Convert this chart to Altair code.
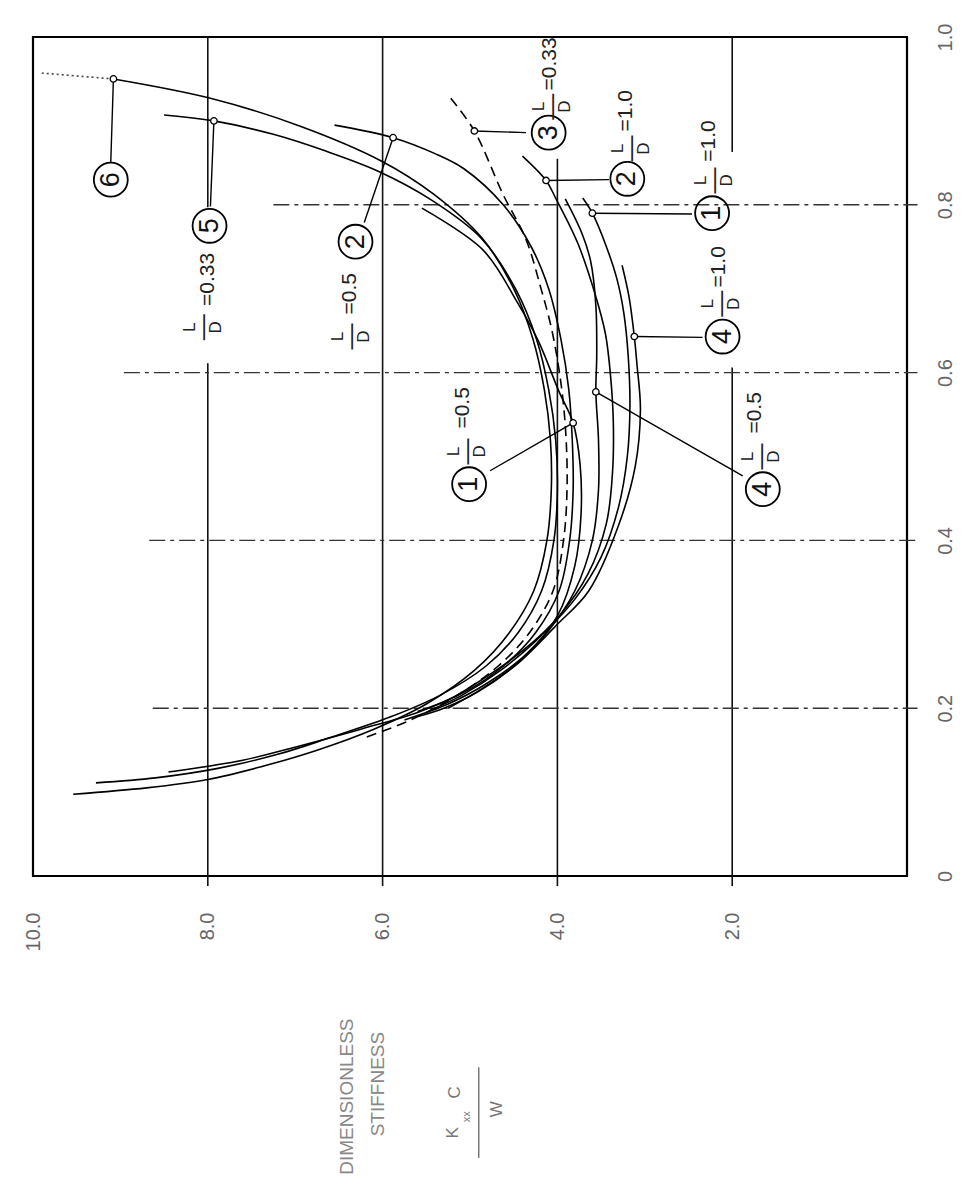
import altair as alt
import pandas as pd

# ---------------- values ----------------
# e = eccentricity ratio (0..1), s = dimensionless stiffness K_xx C / W
E_6 = [0.950, 0.927, 0.894, 0.852, 0.813, 0.76, 0.70, 0.64, 0.58, 0.52, 0.46, 0.40, 0.34, 0.29, 0.245, 0.205, 0.175, 0.15, 0.13, 0.115, 0.105, 0.0975]
S_6 = [9.08, 7.97, 6.95, 6.01, 5.42, 4.86, 4.50, 4.28, 4.15, 4.08, 4.07, 4.12, 4.27, 4.55, 4.95, 5.50, 6.10, 6.75, 7.40, 8.00, 8.70, 9.54]
E_6_HEAD = [0.957, 0.950]
S_6_HEAD = [9.90, 9.08]

E_5 = [0.907, 0.900, 0.884, 0.864, 0.84, 0.805, 0.76, 0.70, 0.64, 0.58, 0.52, 0.46, 0.40, 0.34, 0.29, 0.25, 0.215, 0.19, 0.165, 0.145, 0.128, 0.117, 0.111]
S_5 = [8.50, 7.93, 7.25, 6.65, 6.05, 5.43, 4.87, 4.48, 4.24, 4.10, 4.02, 4.00, 4.04, 4.18, 4.45, 4.82, 5.35, 5.90, 6.60, 7.20, 7.90, 8.60, 9.28]

E_2A = [0.895, 0.880, 0.861, 0.843, 0.80, 0.75, 0.70, 0.64, 0.58, 0.52, 0.46, 0.40, 0.34, 0.29, 0.25, 0.22, 0.195, 0.175, 0.155, 0.138, 0.124]
S_2A = [6.55, 5.88, 5.40, 5.07, 4.62, 4.30, 4.10, 3.96, 3.87, 3.83, 3.82, 3.86, 3.98, 4.25, 4.62, 5.05, 5.60, 6.25, 6.95, 7.60, 8.45]

E_3 = [0.927, 0.888, 0.812, 0.759, 0.701, 0.649, 0.58, 0.52, 0.46, 0.40, 0.34, 0.29, 0.25, 0.215, 0.185, 0.165]
S_3 = [5.22, 4.95, 4.62, 4.36, 4.19, 4.06, 3.95, 3.90, 3.89, 3.93, 4.05, 4.32, 4.68, 5.15, 5.70, 6.20]

E_2B = [0.858, 0.829, 0.808, 0.755, 0.694, 0.646, 0.594, 0.54, 0.48, 0.42, 0.36, 0.31, 0.27, 0.235, 0.21, 0.196]
S_2B = [4.40, 4.13, 4.02, 3.77, 3.57, 3.45, 3.39, 3.36, 3.37, 3.44, 3.65, 3.98, 4.38, 4.85, 5.25, 5.60]

E_1B = [0.808, 0.790, 0.753, 0.712, 0.671, 0.62, 0.56, 0.50, 0.44, 0.38, 0.33, 0.28, 0.245, 0.215, 0.198]
S_1B = [3.71, 3.60, 3.45, 3.32, 3.24, 3.19, 3.17, 3.20, 3.30, 3.50, 3.80, 4.25, 4.65, 5.10, 5.45]

E_4B = [0.728, 0.69, 0.643, 0.61, 0.556, 0.488, 0.418, 0.34, 0.299, 0.25, 0.217, 0.200]
S_4B = [3.26, 3.18, 3.12, 3.09, 3.05, 3.11, 3.30, 3.64, 4.01, 4.49, 4.96, 5.25]

E_4A = [0.807, 0.766, 0.733, 0.68, 0.62, 0.577, 0.52, 0.46, 0.40, 0.34, 0.29, 0.25, 0.22, 0.20, 0.19]
S_4A = [3.91, 3.72, 3.62, 3.56, 3.55, 3.56, 3.53, 3.53, 3.60, 3.80, 4.12, 4.50, 4.90, 5.30, 5.60]

E_1A = [0.796, 0.746, 0.684, 0.638, 0.577, 0.540, 0.49, 0.43, 0.37, 0.31, 0.265, 0.23, 0.205, 0.186]
S_1A = [5.55, 4.85, 4.46, 4.22, 3.98, 3.82, 3.74, 3.73, 3.80, 4.00, 4.35, 4.80, 5.25, 5.75]

# label markers on the curves, leader ends and circled curve numbers
LBL_NUM = ["6", "5", "2", "3", "2", "1", "4", "4", "1"]
MARK_E = [0.950, 0.900, 0.880, 0.888, 0.829, 0.790, 0.643, 0.577, 0.540]
MARK_S = [9.08, 7.93, 5.88, 4.95, 4.13, 3.60, 3.12, 3.56, 3.82]
LEAD_E = [0.851, 0.798, 0.779, 0.886, 0.830, 0.789, 0.642, 0.477, 0.483]
LEAD_S = [9.11, 7.97, 6.21, 4.36, 3.41, 2.46, 2.34, 1.88, 4.77]
CIRC_E = [0.830, 0.775, 0.756, 0.886, 0.831, 0.790, 0.643, 0.461, 0.467]
CIRC_S = [9.11, 7.98, 6.31, 4.10, 3.20, 2.23, 2.11, 1.65, 5.01]

# L/D fractions and their values
FRAC_E = [0.654, 0.643, 0.917, 0.867, 0.829, 0.682, 0.500, 0.506]
FRAC_S = [8.06, 6.36, 4.06, 3.16, 2.21, 2.13, 1.67, 5.03]
VAL_TXT = ["=0.33", "=0.5", "=0.33", "=1.0", "=1.0", "=1.0", "=0.5", "=0.5"]
VAL_E = [0.711, 0.694, 0.968, 0.912, 0.876, 0.726, 0.552, 0.558]
VAL_S = [8.00, 6.37, 4.08, 3.22, 2.26, 2.15, 1.74, 5.08]

# grid lines
S_GRID = [2, 2, 4, 6, 8, 8]
S_GRID_E1 = [-0.012, 0.863, -0.012, -0.012, -0.012, 0.797]
S_GRID_E2 = [0.606, 1.0, 0.855, 1.0, 0.611, 1.0]
E_GRID = [0.2, 0.4, 0.6, 0.8]
E_GRID_S1 = [8.63, 8.67, 8.96, 7.25]
E_GRID_S2 = [-0.12, -0.12, -0.12, -0.12]

S_TICKS = [2, 4, 6, 8, 10]
E_TICKS = [0, 0.2, 0.4, 0.6, 0.8, 1.0]

# axis title (placed under the plot)
TITLE_TXT = ["DIMENSIONLESS", "STIFFNESS"]
TITLE_S = [6.41, 6.05]
TITLE_E = [-0.263, -0.248]
FORM_TXT = ["K", "xx", "C", "W"]
FORM_S = [5.19, 5.04, 5.17, 4.69]
FORM_E = [-0.306, -0.287, -0.258, -0.278]
FORM_SIZE = [17, 11, 17, 17]
FORM_BAR_S = [4.90]
FORM_BAR_E1 = [-0.228]
FORM_BAR_E2 = [-0.336]

# ---------------- tables ----------------
def curve(name, es, ss):
    return pd.DataFrame({"curve": [name] * len(es), "idx": list(range(len(es))), "e": es, "s": ss})

solid = pd.concat([
    curve("6", E_6, S_6), curve("5", E_5, S_5), curve("2_05", E_2A, S_2A),
    curve("2_10", E_2B, S_2B), curve("1_10", E_1B, S_1B), curve("4_10", E_4B, S_4B),
    curve("4_05", E_4A, S_4A), curve("1_05", E_1A, S_1A),
], ignore_index=True)
dashed = curve("3", E_3, S_3)
head = curve("6h", E_6_HEAD, S_6_HEAD)

marks = pd.DataFrame({"e": MARK_E, "s": MARK_S, "e2": LEAD_E, "s2": LEAD_S})
circ = pd.DataFrame({"e": CIRC_E, "s": CIRC_S, "t": LBL_NUM})
frac = pd.DataFrame({"e": FRAC_E, "s": FRAC_S})
vals = pd.DataFrame({"e": VAL_E, "s": VAL_S, "t": VAL_TXT})
sgrid = pd.DataFrame({"s": S_GRID, "e": S_GRID_E1, "e2": S_GRID_E2})
egrid = pd.DataFrame({"e": E_GRID, "s": E_GRID_S1, "s2": E_GRID_S2})
titles = pd.DataFrame({"e": TITLE_E, "s": TITLE_S, "t": TITLE_TXT})
form = pd.DataFrame({"e": FORM_E, "s": FORM_S, "t": FORM_TXT, "fs": FORM_SIZE})
fbar = pd.DataFrame({"s": FORM_BAR_S, "e": FORM_BAR_E1, "e2": FORM_BAR_E2})
axis_dummy = pd.DataFrame({"s": [0, 10], "e": [0, 1]})

# ---------------- encodings ----------------
FONT = "Liberation Sans"
xs = alt.Scale(domain=[0, 10], reverse=True, nice=False, zero=False)
ys = alt.Scale(domain=[0, 1], nice=False, zero=False)
x_axis = alt.Axis(values=S_TICKS, labelExpr="format(datum.value, '.1f')", orient="bottom",
                  labelAngle=270, labelAlign="right", labelBaseline="middle", labelPadding=36,
                  ticks=False, tickSize=0, domain=False, grid=False, labelFlush=False,
                  labelOverlap=False, labelFontSize=20, labelColor="#666", labelFont=FONT, title=None)
y_axis = alt.Axis(values=E_TICKS, labelExpr="datum.value == 0 ? '0' : format(datum.value, '.1f')",
                  orient="right", labelAngle=270, labelAlign="center", labelBaseline="top",
                  labelPadding=28, ticks=False, tickSize=0, domain=False, grid=False,
                  labelFlush=False, labelOverlap=False, labelFontSize=20, labelColor="#666",
                  labelFont=FONT, title=None)
X = alt.X("s:Q", scale=xs, axis=x_axis)
Y = alt.Y("e:Q", scale=ys, axis=y_axis)

axes = alt.Chart(axis_dummy).mark_point(opacity=0).encode(x=X, y=Y)

sgrid_l = alt.Chart(sgrid).mark_rule(color="#111", strokeWidth=1.6).encode(x=X, y=Y, y2="e2:Q")
egrid_l = alt.Chart(egrid).mark_rule(color="#333", strokeWidth=1.4, strokeDash=[16, 5, 4, 5]).encode(
    x=X, x2="s2:Q", y=Y)

solid_l = alt.Chart(solid).mark_line(color="black", strokeWidth=1.6, interpolate="catmull-rom").encode(
    x=X, y=Y, detail="curve:N", order="idx:Q")
dash_l = alt.Chart(dashed).mark_line(color="black", strokeWidth=1.6, strokeDash=[10, 6],
                                     interpolate="catmull-rom").encode(x=X, y=Y, order="idx:Q")
head_l = alt.Chart(head).mark_line(color="#444", strokeWidth=1.6, strokeDash=[2, 3]).encode(
    x=X, y=Y, order="idx:Q")

lead_l = alt.Chart(marks).mark_rule(color="black", strokeWidth=1.4).encode(x=X, x2="s2:Q", y=Y, y2="e2:Q")
mark_l = alt.Chart(marks).mark_point(shape="circle", filled=True, color="white", stroke="black",
                                     strokeWidth=1.3, size=42, opacity=1).encode(x=X, y=Y)

circ_l = alt.Chart(circ).mark_point(shape="circle", filled=False, color="black", strokeWidth=1.8,
                                    size=1150, opacity=1).encode(x=X, y=Y)
num_l = alt.Chart(circ).mark_text(angle=270, font=FONT, fontSize=27, color="#111", align="center",
                                  baseline="middle").encode(x=X, y=Y, text="t:N")

frac_L = alt.Chart(frac).mark_text(angle=270, font=FONT, fontSize=17, color="#222", align="center",
                                   baseline="middle", dy=-13, text="L").encode(x=X, y=Y)
frac_D = alt.Chart(frac).mark_text(angle=270, font=FONT, fontSize=17, color="#222", align="center",
                                   baseline="middle", dy=13, text="D").encode(x=X, y=Y)
frac_bar = alt.Chart(frac).mark_text(angle=270, font=FONT, fontSize=26, color="#222", align="center",
                                     baseline="middle", dy=0, text="\u2014").encode(x=X, y=Y)
val_l = alt.Chart(vals).mark_text(angle=270, font=FONT, fontSize=21, color="#222", align="center",
                                  baseline="middle").encode(x=X, y=Y, text="t:N")

title_l = alt.Chart(titles).mark_text(angle=270, font=FONT, fontSize=19, color="#888", align="center",
                                      baseline="middle").encode(x=X, y=Y, text="t:N")
form_l = alt.Chart(form).mark_text(angle=270, font=FONT, color="#777", align="center",
                                   baseline="middle").encode(
    x=X, y=Y, text="t:N", size=alt.Size("fs:Q", scale=None, legend=None))
fbar_l = alt.Chart(fbar).mark_rule(color="#777", strokeWidth=1.5).encode(x=X, y=Y, y2="e2:Q")

chart = alt.layer(
    axes, sgrid_l, egrid_l, solid_l, dash_l, head_l, lead_l, mark_l,
    circ_l, num_l, frac_L, frac_D, frac_bar, val_l, title_l, form_l, fbar_l,
).properties(
    width=874, height=839,
    padding={"left": 25, "top": 29, "right": 60, "bottom": 300},
    autosize=alt.AutoSizeParams(type="none"),
    background="white",
).configure_view(stroke="black", strokeWidth=2.2)

chart.save("out.html", embed_options={"renderer": "svg", "actions": False})
